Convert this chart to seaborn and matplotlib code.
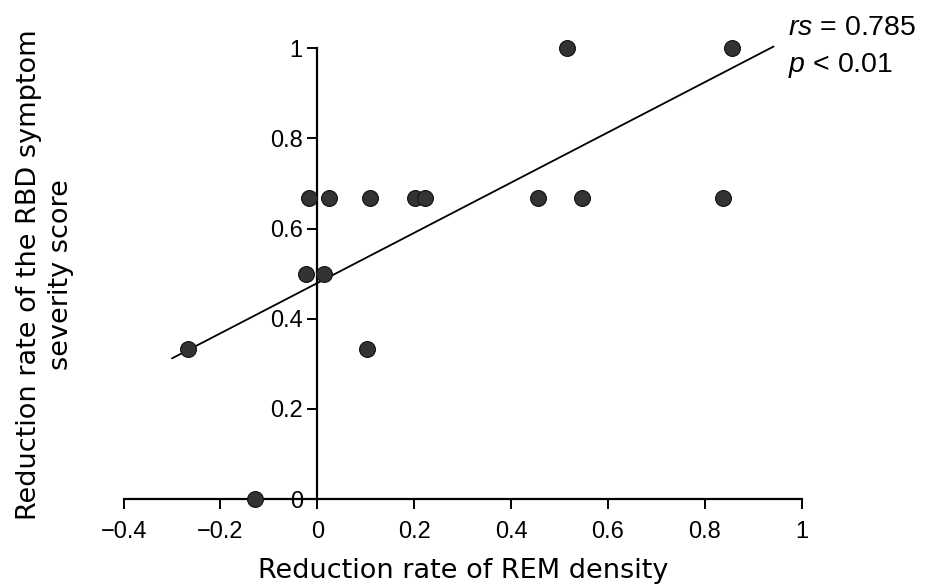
import matplotlib
matplotlib.use("Agg")
import matplotlib.pyplot as plt
import seaborn as sns
import pandas as pd

# Data
rem_reduction = [-0.017, 0.025, 0.109, 0.202, 0.222, 0.455, 0.546, 0.838,
                 -0.024, 0.014, 0.515, 0.856, -0.268, 0.102, -0.129]
rbd_reduction = [0.667, 0.667, 0.667, 0.667, 0.667, 0.667, 0.667, 0.667,
                 0.5, 0.5, 1.0, 1.0, 0.333, 0.333, 0.0]
fit_x = [-0.300, 0.942]
fit_y = [0.312, 1.004]
x_ticks = [-0.4, -0.2, 0, 0.2, 0.4, 0.6, 0.8, 1.0]
x_tick_labels = ["\u22120.4", "\u22120.2", "0", "0.2", "0.4", "0.6", "0.8", "1"]
y_ticks = [0, 0.2, 0.4, 0.6, 0.8, 1.0]
y_tick_labels = ["0", "0.2", "0.4", "0.6", "0.8", "1"]

sns.set_theme(style="white")
plt.rcParams["font.family"] = ["Liberation Sans", "DejaVu Sans"]
plt.rcParams["mathtext.fontset"] = "custom"
plt.rcParams["mathtext.it"] = "Liberation Sans:italic"
plt.rcParams["mathtext.rm"] = "Liberation Sans"

W, H = 926, 586
fig = plt.figure(figsize=(W / 100, H / 100), dpi=100)
x0, x1 = 123.6, 801.7
y0, y1 = 499.0, 48.3
ax = fig.add_axes([x0 / W, 1 - y0 / H, (x1 - x0) / W, (y0 - y1) / H])

df = pd.DataFrame({"x": rem_reduction, "y": rbd_reduction})
fit = pd.DataFrame({"x": fit_x, "y": fit_y})

sns.lineplot(data=fit, x="x", y="y", ax=ax, color="black", lw=1.3,
             clip_on=False, zorder=2)
sns.scatterplot(data=df, x="x", y="y", ax=ax, s=130, color="#333333",
                edgecolor="#111111", linewidth=0.8, clip_on=False, zorder=3)

ax.set_xlim(-0.4, 1.0)
ax.set_ylim(0, 1.0)
ax.set_xlabel("")
ax.set_ylabel("")

for s in ["top", "right"]:
    ax.spines[s].set_visible(False)
ax.spines["left"].set_position(("data", 0))
ax.spines["bottom"].set_position(("data", 0))
for s in ["left", "bottom"]:
    ax.spines[s].set_linewidth(1.6)
    ax.spines[s].set_color("black")
    ax.spines[s].set_zorder(1)

ax.set_xticks(x_ticks)
ax.set_xticklabels(x_tick_labels)
ax.set_yticks(y_ticks)
ax.set_yticklabels(y_tick_labels)
ax.tick_params(axis="x", direction="out", length=7.5, width=1.4, pad=8,
               labelsize=17, colors="black", bottom=True)
ax.tick_params(axis="y", direction="out", length=7.5, width=1.4, pad=3,
               labelsize=17, colors="black", left=True)
ax.grid(False)

fig.text(463 / W, 1 - 578 / H, "Reduction rate of REM density",
         ha="center", va="baseline", fontsize=19.5, color="black",
         family="DejaVu Sans")
fig.text(45 / W, 1 - 275 / H, "Reduction rate of the RBD symptom\nseverity score",
         ha="center", va="center", rotation=90, fontsize=19.5, color="black",
         multialignment="center", linespacing=1.25, family="DejaVu Sans")

fig.text(788 / W, 1 - 35 / H, r"$\mathit{rs}$ = 0.785", ha="left",
         va="baseline", fontsize=20.5, color="black")
fig.text(788 / W, 1 - 72 / H, r"$\mathit{p}$ < 0.01", ha="left",
         va="baseline", fontsize=20.5, color="black")

fig.savefig("out.png", dpi=100, facecolor="white")
